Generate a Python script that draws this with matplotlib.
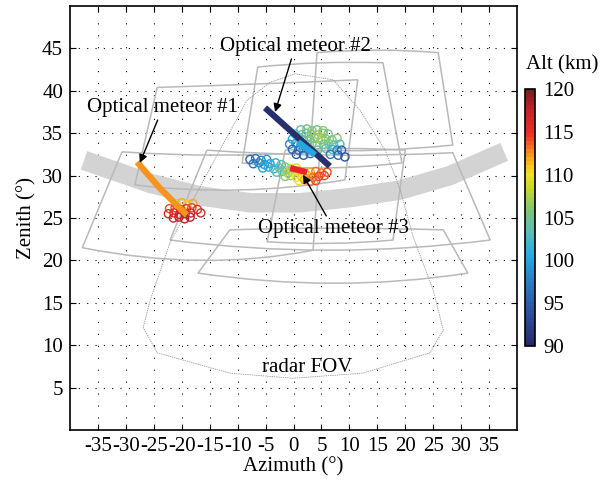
import numpy as np
import matplotlib.pyplot as plt
from matplotlib.colors import LinearSegmentedColormap, Normalize
from matplotlib.cm import ScalarMappable
from matplotlib.path import Path
from matplotlib.patches import PathPatch

plt.rcParams['font.family'] = ['Liberation Serif', 'DejaVu Serif']
plt.rcParams['axes.unicode_minus'] = False
plt.rcParams['lines.scale_dashes'] = False

# ---- data (azimuth, zenith in degrees) ----
band_az = [-37.5, -25.7, -16.7, -7.8, 1.2, 10.1, 19.1, 28.0, 37.7]
band_ze = [31.8, 29.1, 27.6, 26.8, 26.8, 27.4, 28.3, 30.0, 32.8]

# camera FOV boxes: TL, top-mid, TR, BR, bottom-mid, BL
cam_boxes = [
    [(-24.4, 40.4), (-6.4, 40.8), (11.5, 41.3), (9.2, 29.5), (-9.6, 28.3), (-28.4, 28.9)],
    [(-30.7, 32.8), (-13.2, 32.4), (4.7, 32.8), (3.5, 21.2), (-16.7, 20.0), (-37.8, 21.5)],
    [(-6.4, 42.8), (4.7, 43.3), (16.0, 43.3), (19.4, 31.5), (4.7, 30.9), (-9.2, 31.5)],
    [(4.2, 44.5), (15.1, 44.8), (25.9, 44.5), (28.5, 33.6), (15.5, 33.0), (3.0, 33.0)],
    [(-15.5, 33.0), (6.5, 32.4), (28.5, 32.7), (35.2, 22.4), (6.5, 21.2), (-22.1, 22.4)],
    [(-1.5, 33.0), (9.2, 33.2), (20.0, 33.0), (17.8, 22.4), (6.5, 22.0), (-4.7, 22.2)],
    [(-11.4, 23.6), (7.4, 23.8), (26.8, 23.6), (31.2, 18.5), (7.4, 17.3), (-17.1, 18.5)],
]

radar_az = [-0.1, -11.4, -24.4, -26.9, -25.7, -22.1, -13.2, -8.3, -4.2, 0.3, 7.1,
            11.9, 16.4, 19.1, 21.4, 25.0, 26.8, 24.4, 12.4, -0.1]
radar_ze = [6.1, 6.7, 9.1, 12.1, 15.2, 22.1, 33.0, 38.9, 41.0, 42.0, 41.3,
            37.7, 33.0, 28.3, 22.8, 16.5, 11.8, 9.1, 6.7, 6.1]

# optical meteor tracks
m1_az = [-28.0, -23.9, -19.1]
m1_ze = [31.6, 28.5, 25.35]
m2_az = [-5.1, 6.5]
m2_ze = [38.0, 31.1]
m2b_az = [0.8, 3.85]
m2b_ze = [33.96, 32.43]
m3_az = [-0.6, 2.4]
m3_ze = [30.9, 30.4]

# radar detections (az, ze, altitude km)
r1_az = [-21.0, -20.0, -19.0, -18.0,
         -22.2, -21.2, -20.2, -19.2, -18.2, -17.2,
         -22.4, -21.4, -20.4, -19.4, -18.4, -16.6,
         -21.5, -20.5, -19.5, -18.5]
r1_ze = [26.7, 26.8, 26.6, 26.7,
         26.1, 26.2, 26.0, 26.1, 26.2, 26.0,
         25.5, 25.6, 25.4, 25.5, 25.6, 25.6,
         25.0, 25.1, 24.9, 25.1]
r1_alt = [111, 112, 111, 112,
          114, 114, 115, 115, 114, 115,
          116, 116, 117, 117, 117, 116,
          117, 118, 118, 118]

r2_az = [1.3, 2.4, 3.3, 4.2, 5.3,
         0.3, 1.4, 2.3, 3.2, 4.4, 5.3, 6.2,
         -0.2, 0.9, 1.8, 2.9, 3.8, 4.9, 5.8, 6.9, 7.8,
         -0.7, 0.4, 1.3, 2.4, 3.3, 4.2, 5.4, 6.3, 7.2, 8.3,
         -0.2, 0.9, 1.8, 2.8, 4.3, 5.8, 6.9, 7.8,
         0.5, 1.8, 3.0, 6.6, 8.0,
         9.2, 8.6]
r2_ze = [35.4, 35.5, 35.3, 35.4, 35.3,
         34.9, 34.8, 35.0, 34.9, 34.8, 35.0, 34.9,
         34.3, 34.4, 34.2, 34.3, 34.4, 34.2, 34.3, 34.2, 34.4,
         33.7, 33.8, 33.6, 33.7, 33.8, 33.6, 33.7, 33.8, 33.6, 33.7,
         33.1, 33.0, 33.2, 33.1, 33.0, 33.2, 33.1, 33.0,
         32.5, 32.4, 32.6, 32.5, 32.4,
         32.2, 33.0]
r2_alt = [104, 105, 106, 105, 106,
          103, 104, 105, 106, 107, 106, 105,
          101, 103, 104, 105, 106, 107, 106, 105, 106,
          98, 100, 102, 104, 105, 106, 105, 106, 104, 103,
          96, 97, 99, 102, 104, 104, 102, 99,
          95, 95, 96, 97, 96,
          94, 95]

r3_az = [-7.8, -6.8, -5.8, -4.8,
         -7.2, -6.2, -5.2, -4.2, -3.2, -2.2,
         -5.5, -4.5, -3.5, -2.5, -1.5, -0.5, 0.5,
         -3.0, -2.0, -1.0, 0.0, 1.0, 2.0, 3.0, 4.0, 5.0, 6.0,
         -1.5, -0.5, 0.5, 1.5, 2.5, 3.5, 4.5, 5.5,
         1.0, 2.0, 3.0, 4.0]
r3_ze = [31.9, 32.0, 31.8, 31.9,
         31.4, 31.5, 31.3, 31.4, 31.5, 31.3,
         30.9, 31.0, 30.8, 30.9, 31.0, 30.8, 30.9,
         30.4, 30.5, 30.3, 30.4, 30.5, 30.3, 30.4, 30.5, 30.3, 30.4,
         29.9, 30.0, 29.8, 29.9, 30.0, 29.8, 29.9, 30.0,
         29.4, 29.5, 29.3, 29.4]
r3_alt = [96, 97, 98, 99,
          97, 98, 99, 100, 101, 103,
          100, 101, 102, 104, 106, 108, 109,
          103, 105, 107, 109, 110, 111, 112, 113, 113, 114,
          106, 107, 110, 111, 112, 113, 114, 114,
          110, 112, 113, 114]

# colour map resembling the printed jet scale
cmap = LinearSegmentedColormap.from_list('altjet', [
    (0.00, '#262b6f'), (0.15, '#2e58a6'), (0.25, '#2a7fc4'), (0.35, '#22abe2'),
    (0.45, '#5ebfb5'), (0.52, '#79c280'), (0.60, '#bcd531'), (0.67, '#f2e227'),
    (0.74, '#f8a01c'), (0.83, '#ee2e24'), (0.92, '#c8232a'), (1.00, '#7b1e21')], N=64)
norm = Normalize(90, 120)


def smooth_box(pts):
    # quadratic curves through the mid points of top and bottom edges
    tl, tm, tr, br, bm, bl = [np.array(p) for p in pts]
    c_top = 2 * tm - (tl + tr) / 2
    c_bot = 2 * bm - (br + bl) / 2
    verts = [tl, c_top, tr, br, c_bot, bl, tl]
    codes = [Path.MOVETO, Path.CURVE3, Path.CURVE3, Path.LINETO,
             Path.CURVE3, Path.CURVE3, Path.LINETO]
    return Path(verts, codes)


fig = plt.figure(figsize=(6, 4.84), dpi=100)
ax = fig.add_axes([0.1167, 0.1116, 0.745, 0.876])

ax.set_xlim(-40, 40)
ax.set_ylim(0, 50)
ax.set_xticks(np.arange(-35, 36, 5))
ax.set_yticks(np.arange(5, 46, 5))
ax.tick_params(direction='in', top=True, right=True, length=4, width=0.8,
               labelsize=15, pad=5)
for s in ax.spines.values():
    s.set_linewidth(1.2)
ax.xaxis.grid(True, linestyle=(0, (0.8, 7.8)), color='k', lw=0.8)
ax.yaxis.grid(True, linestyle=(0, (0.8, 5.2)), color='k', lw=0.8)
ax.set_axisbelow(True)

ax.plot(band_az, band_ze, color='#d3d3d3', lw=14, solid_capstyle='butt', zorder=1)

for b in cam_boxes:
    ax.add_patch(PathPatch(smooth_box(b), fill=False, ec='#b9b9b9', lw=1.1, zorder=2))

ax.plot(radar_az, radar_ze, color='#9a9a9a', lw=0.6, ls=(0, (1, 0.6)), zorder=2)

for az, ze, alt in [(r1_az, r1_ze, r1_alt), (r2_az, r2_ze, r2_alt), (r3_az, r3_ze, r3_alt)]:
    ax.scatter(az, ze, s=34, facecolors='none', edgecolors=cmap(norm(np.array(alt))),
               linewidths=1.0, zorder=3)

ax.plot(m1_az, m1_ze, color='#f7941e', lw=4.5, solid_capstyle='butt', zorder=4)
ax.plot(m2_az, m2_ze, color='#27306f', lw=4.5, solid_capstyle='butt', zorder=4)
ax.plot(m2b_az, m2b_ze, color='#2aa6df', lw=4.5, solid_capstyle='butt', zorder=5)
ax.plot(m3_az, m3_ze, color='#ec2227', lw=4.5, solid_capstyle='butt', zorder=4)

arrow = dict(arrowstyle='-|>', color='k', lw=1.0, mutation_scale=12, shrinkA=0, shrinkB=0)
ax.annotate('Optical meteor #1', xy=(-27.5, 31.5), xytext=(-23.4, 38.0),
            ha='center', va='center', fontsize=15, arrowprops=arrow, zorder=6)
ax.annotate('Optical meteor #2', xy=(-3.3, 37.5), xytext=(0.3, 45.2),
            ha='center', va='center', fontsize=15, arrowprops=arrow, zorder=6)
ax.annotate('Optical meteor #3', xy=(1.7, 30.1), xytext=(7.1, 23.8),
            ha='center', va='center', fontsize=15, arrowprops=arrow, zorder=6)
ax.text(2.4, 7.4, 'radar FOV', ha='center', va='center', fontsize=15)

ax.set_xlabel('Azimuth (°)', fontsize=15, labelpad=1)
ax.set_ylabel('Zenith (°)', fontsize=15, labelpad=4)

cax = fig.add_axes([0.875, 0.285, 0.0167, 0.531])
cb = fig.colorbar(ScalarMappable(norm=norm, cmap=cmap), cax=cax, ticks=np.arange(90, 121, 5))
cb.ax.tick_params(length=0, labelsize=15, pad=6)
cb.outline.set_linewidth(1.2)
fig.text(0.937, 0.866, 'Alt (km)', ha='center', va='center', fontsize=15)

fig.savefig('out.png', dpi=100)
